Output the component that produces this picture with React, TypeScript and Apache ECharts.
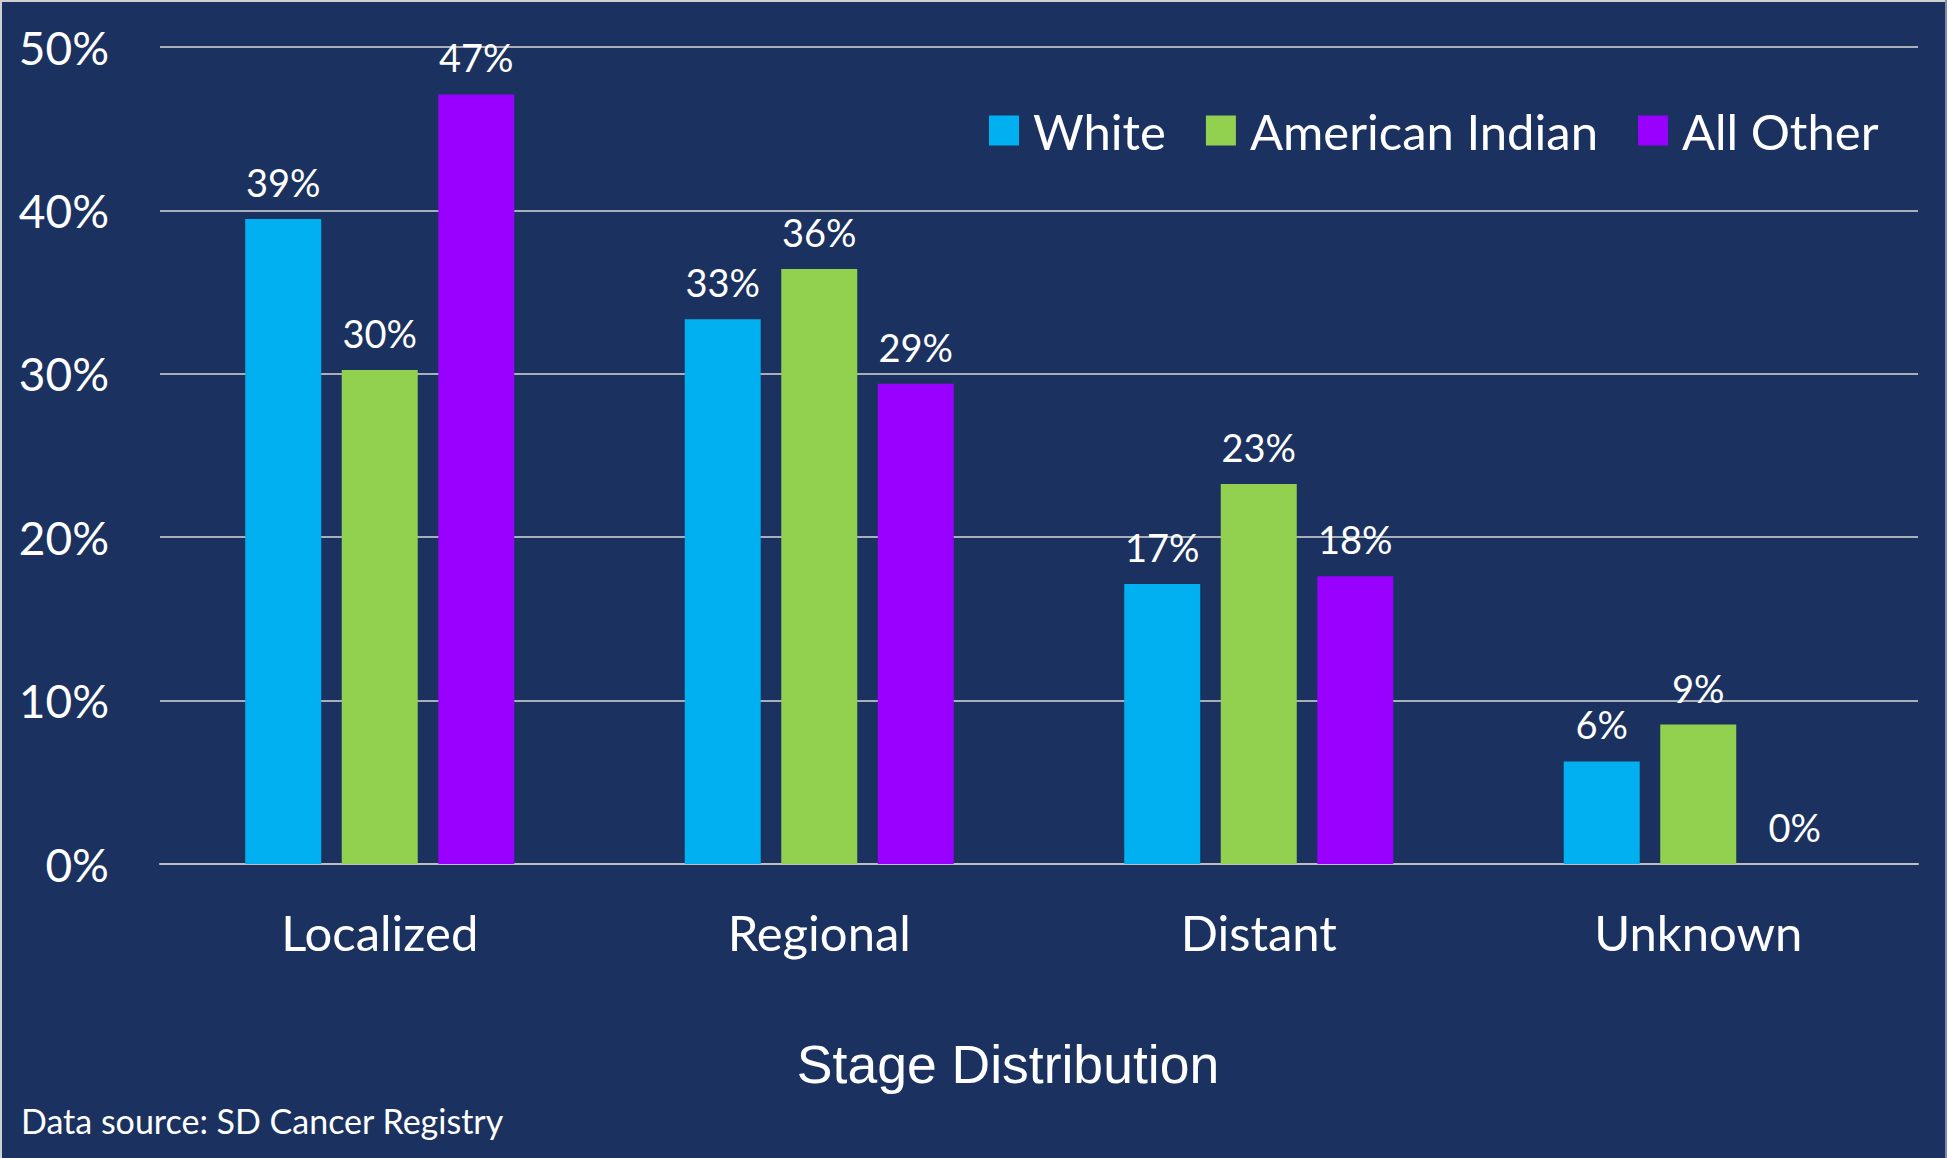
import React, { useEffect, useRef } from "react";
import * as echarts from "echarts";

const categories = ["Localized", "Regional", "Distant", "Unknown"];
const seriesNames = ["White", "American Indian", "All Other"];
const whiteValues = [39.47, 33.34, 17.14, 6.28];
const americanIndianValues = [30.23, 36.42, 23.25, 8.53];
const allOtherValues = [47.1, 29.39, 17.61, 0];
const seriesColors = ["#00B0F0", "#92D050", "#9900FF"];
const axisTitle = "Stage Distribution";
const sourceNote = "Data source: SD Cancer Registry";

const BG = "#1B3260";
const FONT = "Lato";

export default function App() {
  const ref = useRef<HTMLDivElement>(null);

  useEffect(() => {
    document.body.style.margin = "0";
    document.body.style.background = BG;
    const chart = echarts.init(ref.current!, null, { renderer: "svg" });
    const values = [whiteValues, americanIndianValues, allOtherValues];
    chart.setOption({
      animation: false,
      backgroundColor: BG,
      grid: { left: 160, right: 29, top: 47, bottom: 294, containLabel: false },
      legend: {
        left: 989,
        top: 106,
        padding: 0,
        itemWidth: 30,
        itemHeight: 30,
        itemGap: 40,
        icon: "rect",
        data: seriesNames,
        textStyle: {
          color: "#FFFFFF",
          fontFamily: FONT,
          fontSize: 49,
          padding: [0, 0, 0, 9],
        },
      },
      xAxis: {
        type: "category",
        data: categories,
        axisTick: { show: false },
        axisLine: { lineStyle: { color: "#BFBFBF", width: 2 } },
        axisLabel: {
          color: "#FFFFFF",
          fontFamily: FONT,
          fontSize: 49,
          margin: 43,
        },
      },
      yAxis: {
        type: "value",
        min: 0,
        max: 50,
        interval: 10,
        axisLine: { show: false },
        axisTick: { show: false },
        splitLine: { lineStyle: { color: "#D9D9D9", width: 1.5 } },
        axisLabel: {
          color: "#FFFFFF",
          fontFamily: FONT,
          fontSize: 46,
          margin: 51,
          formatter: "{value}%",
        },
      },
      series: seriesNames.map((name, i) => ({
        name,
        type: "bar",
        data: values[i],
        barWidth: 76,
        barGap: "27%",
        itemStyle: { color: seriesColors[i] },
        label: {
          show: true,
          position: "top",
          distance: 18,
          color: "#FFFFFF",
          fontFamily: FONT,
          fontSize: 38,
          formatter: (p: any) => Math.round(p.value) + "%",
        },
      })),
      graphic: [
        { type: "rect", left: 0, top: 0, shape: { width: 1947, height: 2 }, style: { fill: "#D0D0D0" } },
        { type: "rect", left: 0, top: 0, shape: { width: 2, height: 1158 }, style: { fill: "#D0D0D0" } },
        { type: "rect", left: 1945, top: 0, shape: { width: 2, height: 1158 }, style: { fill: "#7B8BA8" } },
        {
          type: "text",
          x: 1008,
          y: 1064,
          style: {
            text: axisTitle,
            fill: "#FFFFFF",
            font: '53.5px "Liberation Sans", Arial, sans-serif',
            textAlign: "center",
            textVerticalAlign: "middle",
          },
        },
        {
          type: "text",
          x: 21,
          y: 1120,
          style: {
            text: sourceNote,
            fill: "#FFFFFF",
            font: `34px ${FONT}`,
            textAlign: "left",
            textVerticalAlign: "middle",
          },
        },
      ],
    });
    return () => chart.dispose();
  }, []);

  return <div ref={ref} style={{ width: 1947, height: 1158 }} />;
}
